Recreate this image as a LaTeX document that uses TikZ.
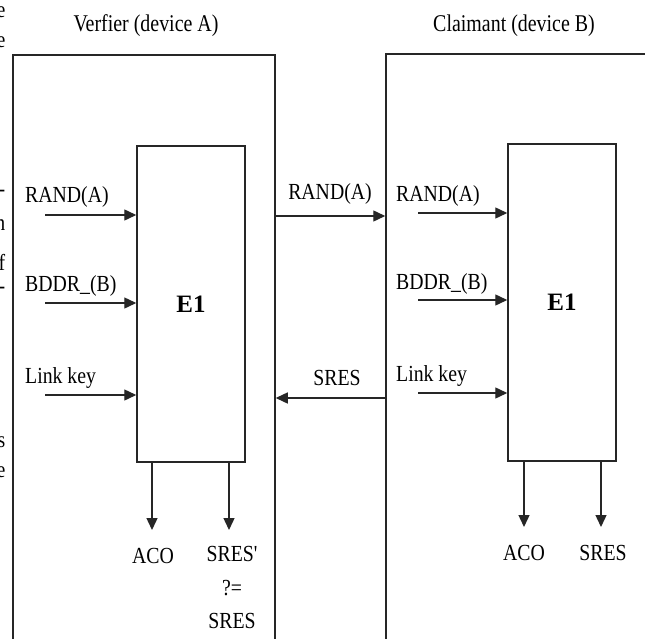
\documentclass[tikz,border=0pt]{standalone}
\usepackage{fontspec}
\setmainfont{Liberation Serif}
\usetikzlibrary{arrows.meta}
\begin{document}
\begin{tikzpicture}[x=1pt,y=-1pt,
  outer/.style={draw=black!85, line width=1.5pt, inner sep=0pt, rectangle},
  ebox/.style={draw=black!85, line width=1.5pt, inner sep=0pt, rectangle,
    minimum width=108pt, font=\fontsize{25}{30}\selectfont\bfseries},
  arr/.style={-{Triangle[length=12pt,width=11pt]}, line width=1.4pt, draw=black!85},
  lbl/.style={font=\fontsize{23}{28}\selectfont, inner sep=0pt, xscale=0.86, transform shape},
  ttl/.style={font=\fontsize{24}{28}\selectfont, inner sep=0pt, xscale=0.83, transform shape}]
\useasboundingbox (0,0) rectangle (645,639);
\clip (0,0) rectangle (645,639);
\fill[white] (0,0) rectangle (645,639);

% cut-off letters of the surrounding page text at the left edge
\begin{scope}
\clip (0,0) rectangle (5.5,639);
\foreach \t/\yy [count=\i] in {e/12, e/42, -/193, n/225, f/262, -/290, s/442, e/472}
  \node[lbl, anchor=east] (frag\i) at (5.5,\yy) {\t};
\end{scope}

% titles
\node[ttl, anchor=base] (tA) at (146,32) {Verfier (device A)};
\node[ttl, anchor=base] (tB) at (514,32) {Claimant (device B)};

% outer device boxes (running off the page)
\node[outer, minimum width=262pt, minimum height=650pt] (oA) at (144,380) {};
\node[outer, minimum width=314pt, minimum height=650pt] (oB) at (543,379) {};

% E1 blocks
\node[ebox, minimum height=316pt] (eA) at (191,304) {E1};
\node[ebox, minimum height=317pt] (eB) at (562,302.5) {E1};

% inputs, device A
\coordinate (iA1) at (45,215);
\coordinate (iA2) at (45,303);
\coordinate (iA3) at (45,395);
\draw[arr] (iA1) -- (iA1 -| eA.west);
\draw[arr] (iA2) -- (iA2 -| eA.west);
\draw[arr] (iA3) -- (iA3 -| eA.west);
\node[lbl, anchor=base west] (lA1) at (25,203) {RAND(A)};
\node[lbl, anchor=base west] (lA2) at (25,291) {BDDR\_(B)};
\node[lbl, anchor=base west] (lA3) at (25,383) {Link key};

% inputs, device B
\coordinate (iB1) at (418,213);
\coordinate (iB2) at (418,300);
\coordinate (iB3) at (418,393);
\draw[arr] (iB1) -- (iB1 -| eB.west);
\draw[arr] (iB2) -- (iB2 -| eB.west);
\draw[arr] (iB3) -- (iB3 -| eB.west);
\node[lbl, anchor=base west] (lB1) at (396,201) {RAND(A)};
\node[lbl, anchor=base west] (lB2) at (396,289) {BDDR\_(B)};
\node[lbl, anchor=base west] (lB3) at (396,381) {Link key};

% exchange between devices
\coordinate (m1) at (300,216);
\coordinate (m2) at (300,398);
\draw[arr] (m1 -| oA.east) -- (m1 -| oB.west);
\draw[arr] (m2 -| oB.west) -- (m2 -| oA.east);
\node[lbl, anchor=base] (lm1) at (330,200) {RAND(A)};
\node[lbl, anchor=base] (lm2) at (337,385) {SRES};

% outputs, device A
\coordinate (oA1) at (152,530);
\coordinate (oA2) at (229,530);
\draw[arr] (oA1 |- eA.south) -- (oA1);
\draw[arr] (oA2 |- eA.south) -- (oA2);
\node[lbl, anchor=base] (aco1) at (153,563) {ACO};
\node[lbl, anchor=base] (sr1) at (232,561) {SRES\textquotesingle};
\node[lbl, anchor=base] (sr2) at (232,595) {?=};
\node[lbl, anchor=base] (sr3) at (232,628) {SRES};

% outputs, device B
\coordinate (oB1) at (524,527);
\coordinate (oB2) at (601,527);
\draw[arr] (oB1 |- eB.south) -- (oB1);
\draw[arr] (oB2 |- eB.south) -- (oB2);
\node[lbl, anchor=base] (aco2) at (524,560) {ACO};
\node[lbl, anchor=base] (sr4) at (603,560) {SRES};
\end{tikzpicture}
\end{document}
